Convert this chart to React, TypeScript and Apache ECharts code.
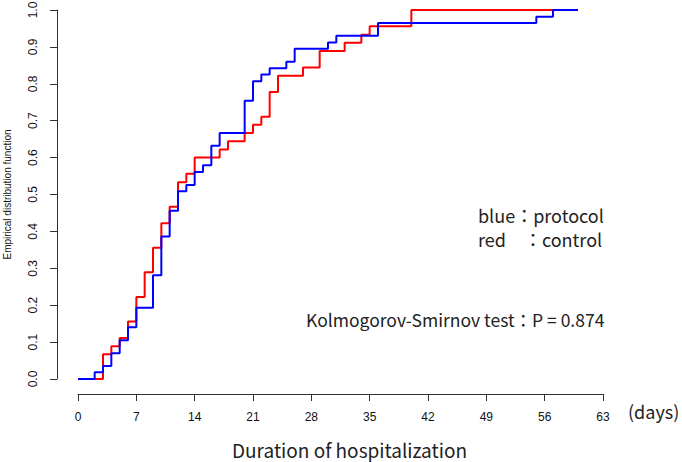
import React, { useEffect, useRef } from "react";
import * as echarts from "echarts";

// Empirical distribution function — step points (day, cumulative proportion after the jump)
const protocolDays = [0, 2, 3, 4, 5, 6, 7, 9, 10, 11, 12, 13, 14, 15, 16, 17, 20, 21, 22, 23, 25, 26, 30, 31, 36, 55, 57, 60];
const protocolValues = [0, 0.018, 0.035, 0.07, 0.105, 0.14, 0.193, 0.281, 0.386, 0.456, 0.509, 0.526, 0.561, 0.579, 0.632, 0.667, 0.754, 0.807, 0.825, 0.842, 0.86, 0.895, 0.912, 0.93, 0.965, 0.982, 1.0, 1.0];

const controlDays = [0, 3, 4, 5, 6, 7, 8, 9, 10, 11, 12, 13, 14, 17, 18, 20, 21, 22, 23, 24, 27, 29, 32, 34, 35, 40, 57];
const controlValues = [0, 0.067, 0.089, 0.111, 0.156, 0.222, 0.289, 0.356, 0.422, 0.467, 0.533, 0.556, 0.6, 0.622, 0.644, 0.667, 0.689, 0.711, 0.778, 0.822, 0.844, 0.889, 0.911, 0.933, 0.956, 1.0, 1.0];

const xTicks = [0, 7, 14, 21, 28, 35, 42, 49, 56, 63];
const yTicks = [0, 0.1, 0.2, 0.3, 0.4, 0.5, 0.6, 0.7, 0.8, 0.9, 1.0];

const legendLines = ["blue：protocol", "red　：control"];
const testText = "Kolmogorov-Smirnov test：P = 0.874";

export default function App() {
  const ref = useRef<HTMLDivElement>(null);
  useEffect(() => {
    if (!ref.current) return;
    const chart = echarts.init(ref.current, null, { renderer: "svg" });
    const jp = "'Noto Sans CJK JP', 'Noto Sans', sans-serif";
    const ar = "'Liberation Sans', Arial, sans-serif";
    chart.setOption({
      animation: false,
      backgroundColor: "#ffffff",
      grid: { left: 78, right: 79, top: 10, bottom: 83, containLabel: false, outerBoundsMode: "none" },
      xAxis: {
        type: "value",
        min: xTicks[0],
        max: xTicks[xTicks.length - 1],
        interval: 7,
        offset: 15,
        splitLine: { show: false },
        axisLine: { show: true, onZero: false, lineStyle: { color: "#333", width: 1 } },
        axisTick: { show: true, length: 7, lineStyle: { color: "#333" } },
        axisLabel: { color: "#111", fontSize: 12, fontFamily: ar, margin: 17 },
        name: "Duration of hospitalization",
        nameLocation: "middle",
        nameGap: 46,
        nameTextStyle: { fontSize: 19, color: "#222", fontFamily: jp, padding: [0, 0, 0, 18] },
      },
      yAxis: {
        type: "value",
        min: yTicks[0],
        max: yTicks[yTicks.length - 1],
        interval: 0.1,
        offset: 21,
        splitLine: { show: false },
        axisLine: { show: true, onZero: false, lineStyle: { color: "#333", width: 1 } },
        axisTick: { show: true, length: 7, lineStyle: { color: "#333" } },
        axisLabel: {
          color: "#111",
          fontSize: 12,
          fontFamily: ar,
          rotate: 90,
          margin: 18,
          formatter: (v: number) => v.toFixed(1),
        },
        name: "Empirical distribution function",
        nameLocation: "middle",
        nameRotate: 90,
        nameGap: 45,
        nameTextStyle: { fontSize: 10, color: "#111", fontFamily: ar },
      },
      series: [
        {
          type: "line",
          step: "end",
          symbol: "none",
          data: controlDays.map((d, i) => [d, controlValues[i]]),
          lineStyle: { color: "#ff0000", width: 2 },
          z: 2,
        },
        {
          type: "line",
          step: "end",
          symbol: "none",
          data: protocolDays.map((d, i) => [d, protocolValues[i]]),
          lineStyle: { color: "#0000ff", width: 2 },
          z: 3,
        },
      ],
      graphic: [
        {
          type: "text",
          left: 628,
          top: 402,
          style: { text: "(days)", fontSize: 18, fill: "#222", fontFamily: jp },
        },
        {
          type: "text",
          left: 478,
          top: 206,
          style: { text: legendLines[0], fontSize: 18, fill: "#222", fontFamily: jp },
        },
        {
          type: "text",
          left: 478,
          top: 230,
          style: { text: legendLines[1], fontSize: 18, fill: "#222", fontFamily: jp },
        },
        {
          type: "text",
          left: 306,
          top: 311,
          style: { text: testText, fontSize: 17.5, fill: "#222", fontFamily: jp },
        },
      ],
    });
    return () => chart.dispose();
  }, []);
  return (
    <div
      ref={ref}
      style={{ position: "fixed", left: 0, top: 0, width: 682, height: 462, background: "#fff" }}
    />
  );
}
